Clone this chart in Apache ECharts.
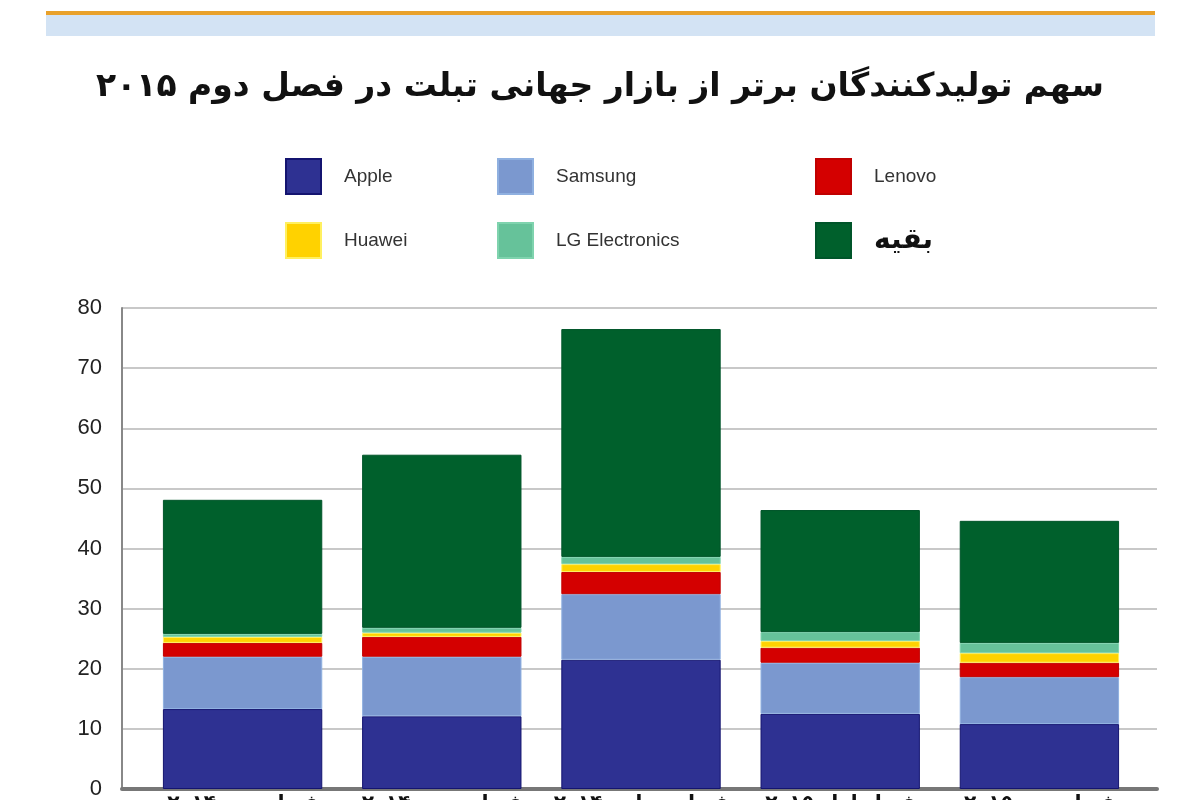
<!DOCTYPE html>
<html>
<head>
<meta charset="utf-8">
<script src="https://cdn.jsdelivr.net/npm/echarts@6/dist/echarts.min.js"></script>
<style>
  html, body { margin: 0; padding: 0; background: #fff; }
  #main { width: 1200px; height: 800px; }
</style>
</head>
<body>
<div id="main"></div>
<script>
// 数据
var categories = ['فصل دوم ۲۰۱۴', 'فصل سوم ۲۰۱۴', 'فصل چهارم ۲۰۱۴', 'فصل اول ۲۰۱۵', 'فصل دوم ۲۰۱۵'];
var apple   = [13.3, 12.1, 21.5, 12.5, 10.8];
var samsung = [8.7, 9.9, 10.9, 8.5, 7.8];
var lenovo  = [2.3, 3.3, 3.7, 2.5, 2.4];
var huawei  = [1.0, 0.7, 1.3, 1.1, 1.6];
var lg      = [0.5, 0.8, 1.2, 1.5, 1.7];
var others  = [22.3, 28.8, 37.9, 20.3, 20.3];
var yTicks  = [0, 10, 20, 30, 40, 50, 60, 70, 80];

var seriesNames = ['Apple', 'Samsung', 'Lenovo', 'Huawei', 'LG Electronics', 'بقیه'];
var seriesData = [apple, samsung, lenovo, huawei, lg, others];
var colors = ['#2e3192', '#7b98cf', '#d40000', '#ffd200', '#66c29a', '#00602c'];
var borders = ['#141470', '#8fb0e0', '#c00000', '#fff060', '#7fd3ae', '#00552a'];

var myChart = echarts.init(document.getElementById('main'));

function legendCol(names, left) {
    return {
        data: names,
        orient: 'vertical',
        left: left,
        top: 158,
        padding: 0,
        itemWidth: 35,
        itemHeight: 35,
        itemGap: 27,
        icon: 'rect',
        selectedMode: false,
        textStyle: {
            fontFamily: 'Liberation Sans, Arial, sans-serif',
            fontSize: 19,
            color: '#333',
            padding: [0, 0, 0, 18],
            rich: {
                b: { fontFamily: 'DejaVu Sans', fontWeight: 'bold', fontSize: 28, color: '#111' }
            }
        },
        formatter: function (n) { return n === 'بقیه' ? '{b|' + n + '}' : n; }
    };
}

var series = seriesNames.map(function (name, i) {
    return {
        name: name,
        type: 'bar',
        stack: 'total',
        xAxisIndex: 1,
        yAxisIndex: 1,
        barCategoryGap: '20%',
        data: seriesData[i],
        itemStyle: { color: colors[i], borderColor: borders[i], borderWidth: 1 }
    };
});

var option = {
    backgroundColor: '#fff',
    animation: false,
    color: colors,
    title: {
        text: 'سهم تولیدکنندگان برتر از بازار جهانی تبلت در فصل دوم ۲۰۱۵',
        left: 'center',
        top: 66,
        textStyle: { fontFamily: 'DejaVu Sans', fontWeight: 'bold', fontSize: 33, color: '#111' }
    },
    graphic: [
        { type: 'rect', shape: { x: 46, y: 15, width: 1109, height: 21 }, style: { fill: '#d3e3f4' } },
        { type: 'rect', shape: { x: 46, y: 11, width: 1109, height: 4 }, style: { fill: '#e9a12a' } }
    ],
    legend: [
        legendCol(['Apple', 'Huawei'], 285),
        legendCol(['Samsung', 'LG Electronics'], 497),
        legendCol(['Lenovo', 'بقیه'], 815)
    ],
    grid: [
        { left: 122, right: 43, top: 308, bottom: 11, outerBoundsMode: 'none', containLabel: false },
        { left: 143, right: 61, top: 308, bottom: 11, outerBoundsMode: 'none', containLabel: false }
    ],
    xAxis: [
        {
            type: 'value', gridIndex: 0, min: 0, max: 1,
            axisLine: { show: true, onZero: false, lineStyle: { color: '#777', width: 4 } },
            axisTick: { show: false }, axisLabel: { show: false }, splitLine: { show: false }
        },
        {
            type: 'category', gridIndex: 1, data: categories,
            axisLine: { show: false }, axisTick: { show: false },
            axisLabel: {
                interval: 0, hideOverlap: false,
                margin: 5, color: '#111', fontFamily: 'DejaVu Sans', fontWeight: 'bold', fontSize: 20,
                verticalAlign: 'top'
            }
        }
    ],
    yAxis: [
        {
            type: 'value', gridIndex: 0, min: yTicks[0], max: yTicks[yTicks.length - 1], interval: 10,
            axisLine: { show: true, lineStyle: { color: '#888', width: 2 } },
            axisTick: { show: false },
            axisLabel: { margin: 20, color: '#222', fontFamily: 'Liberation Sans, Arial, sans-serif', fontSize: 22 },
            splitLine: { lineStyle: { color: '#c8c8c8', width: 2 } }
        },
        {
            type: 'value', gridIndex: 1, min: yTicks[0], max: yTicks[yTicks.length - 1], interval: 10,
            show: false, splitLine: { show: false }
        }
    ],
    series: series
};

myChart.setOption(option);
</script>
</body>
</html>
